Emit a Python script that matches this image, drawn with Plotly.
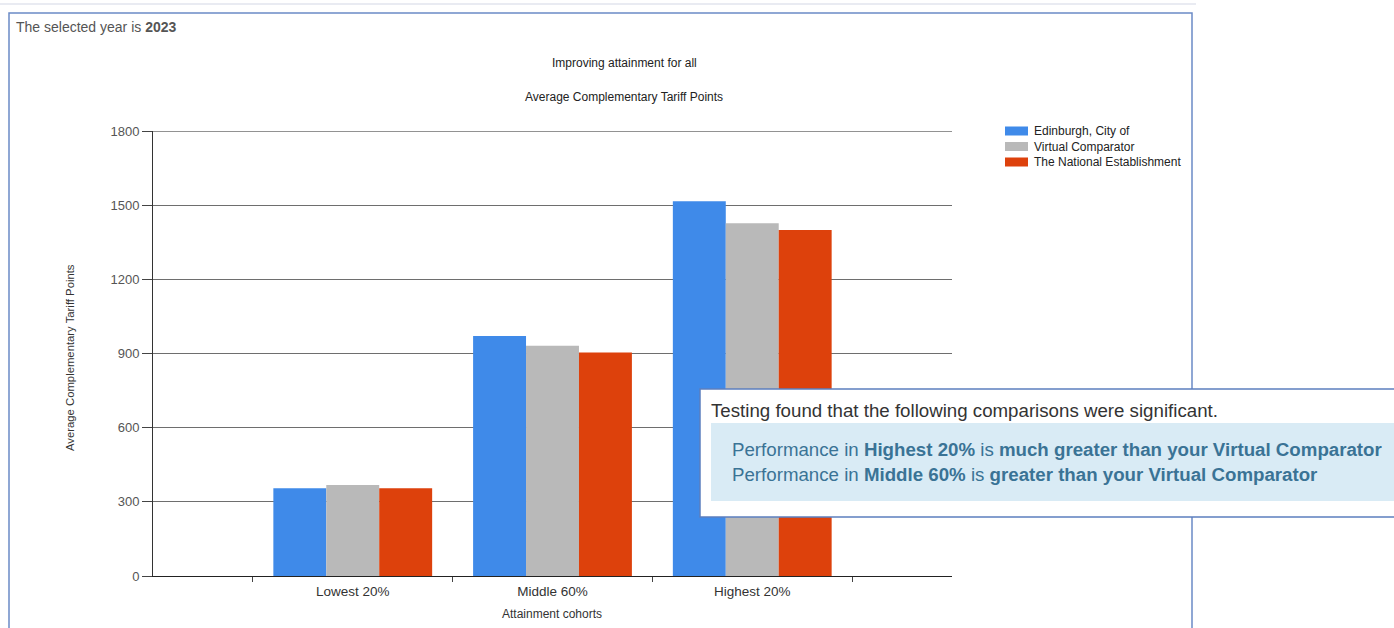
import plotly.graph_objects as go

# Data
cohorts = ["Lowest 20%", "Middle 60%", "Highest 20%"]
series_names = ["Edinburgh, City of", "Virtual Comparator", "The National Establishment"]
edinburgh = [355, 971, 1516]
virtual_comparator = [368, 931, 1427]
national = [355, 904, 1400]
y_ticks = [0, 300, 600, 900, 1200, 1500, 1800]

series_values = [edinburgh, virtual_comparator, national]
colors = ["#3f8ae9", "#b9b9b9", "#dd410c"]

W, H = 1394, 628
L, R, T, B = 153, 952, 131, 576  # plot area in pixels


def px(x):
    return (x - L) / (R - L)


def py(y):
    return (B - y) / (B - T)


fig = go.Figure()
for name, vals, col in zip(series_names, series_values, colors):
    fig.add_trace(go.Bar(x=cohorts, y=vals, name=name, marker_color=col,
                         marker_line_width=0, showlegend=False))

font_main = "Liberation Sans, Arial, sans-serif"
grid_col = "#6e6e6e"

fig.update_layout(
    width=W, height=H,
    margin=dict(l=L, r=W - R, t=T, b=H - B, pad=0),
    paper_bgcolor="white", plot_bgcolor="white",
    barmode="group", bargap=0.205, bargroupgap=0,
    font=dict(family=font_main, color="#333333", size=12),
    xaxis=dict(type="category", categoryorder="array", categoryarray=cohorts,
               range=[-1, 3], tickson="boundaries", ticks="outside", ticklen=5,
               tickcolor="#444", showline=True, linecolor="#222", linewidth=1,
               showgrid=False, ticklabelstandoff=3,
               tickfont=dict(size=13.5, color="#333"), fixedrange=True),
    yaxis=dict(range=[0, 1800], tickvals=y_ticks, ticks="outside", ticklen=10,
               tickcolor="#444", showline=True, linecolor="#333", linewidth=1,
               showgrid=True, gridcolor=grid_col, gridwidth=1.4, zeroline=False,
               tickfont=dict(size=13, color="#555"), fixedrange=True),
)

shapes = []
annotations = []

# Gridline along the top of the value axis
shapes.append(dict(type="line", xref="paper", yref="y", x0=0, x1=1,
                   y0=y_ticks[-1], y1=y_ticks[-1], line=dict(color=grid_col, width=1.4),
                   layer="below"))

# Outer frame and thin page rule
shapes.append(dict(type="line", xref="paper", yref="paper",
                   x0=px(0), x1=px(1196), y0=py(4), y1=py(4),
                   line=dict(color="#e2e5ee", width=1.5)))
shapes.append(dict(type="rect", xref="paper", yref="paper",
                   x0=px(9), x1=px(1192), y0=py(13), y1=py(640),
                   line=dict(color="#6b8bc6", width=1.5), fillcolor="rgba(0,0,0,0)",
                   layer="below"))

# Titles
annotations.append(dict(text="The selected year is <b>2023</b>", xref="paper", yref="paper",
                        x=px(14), y=py(27), xanchor="left", yanchor="middle", showarrow=False,
                        font=dict(size=14, color="#555555", family=font_main)))
annotations.append(dict(text="Improving attainment for all", xref="paper", yref="paper",
                        x=px(624), y=py(63), xanchor="center", yanchor="middle", showarrow=False,
                        font=dict(size=12, color="#222")))
annotations.append(dict(text="Average Complementary Tariff Points", xref="paper", yref="paper",
                        x=px(624), y=py(97), xanchor="center", yanchor="middle", showarrow=False,
                        font=dict(size=12, color="#222")))
annotations.append(dict(text="Average Complementary Tariff Points", xref="paper", yref="paper",
                        x=px(70), y=py(358), xanchor="center", yanchor="middle", showarrow=False,
                        textangle=-90, font=dict(size=11.3, color="#333")))
annotations.append(dict(text="Attainment cohorts", xref="paper", yref="paper",
                        x=px(552), y=py(614), xanchor="center", yanchor="middle", showarrow=False,
                        font=dict(size=12, color="#333")))

# Legend
for i, (name, col) in enumerate(zip(series_names, colors)):
    yc = 131 + i * 15.5
    shapes.append(dict(type="rect", xref="paper", yref="paper",
                       x0=px(1005), x1=px(1028), y0=py(yc - 4.5), y1=py(yc + 4.5),
                       fillcolor=col, line=dict(width=0)))
    annotations.append(dict(text=name, xref="paper", yref="paper",
                            x=px(1032), y=py(yc), xanchor="left", yanchor="middle",
                            showarrow=False, font=dict(size=12, color="#222")))

# Significance note panel
shapes.append(dict(type="rect", xref="paper", yref="paper", layer="above",
                   x0=px(700), x1=px(1400), y0=py(389), y1=py(517),
                   fillcolor="white", line=dict(color="#5c7fbf", width=1.5)))
shapes.append(dict(type="rect", xref="paper", yref="paper", layer="above",
                   x0=px(711), x1=px(1400), y0=py(423), y1=py(501),
                   fillcolor="#d9ebf5", line=dict(width=0)))
annotations.append(dict(text="Testing found that the following comparisons were significant.",
                        xref="paper", yref="paper", x=px(709), y=py(410),
                        xanchor="left", yanchor="middle", showarrow=False,
                        font=dict(size=18.7, color="#333333", family=font_main)))
annotations.append(dict(text="Performance in <b>Highest 20%</b> is <b>much greater than your Virtual Comparator</b>",
                        xref="paper", yref="paper", x=px(730), y=py(449),
                        xanchor="left", yanchor="middle", showarrow=False,
                        font=dict(size=18.7, color="#3a7395", family=font_main)))
annotations.append(dict(text="Performance in <b>Middle 60%</b> is <b>greater than your Virtual Comparator</b>",
                        xref="paper", yref="paper", x=px(730), y=py(474),
                        xanchor="left", yanchor="middle", showarrow=False,
                        font=dict(size=18.7, color="#3a7395", family=font_main)))

fig.update_layout(shapes=shapes, annotations=annotations)
fig.write_html("out.html", config={"displayModeBar": False})
